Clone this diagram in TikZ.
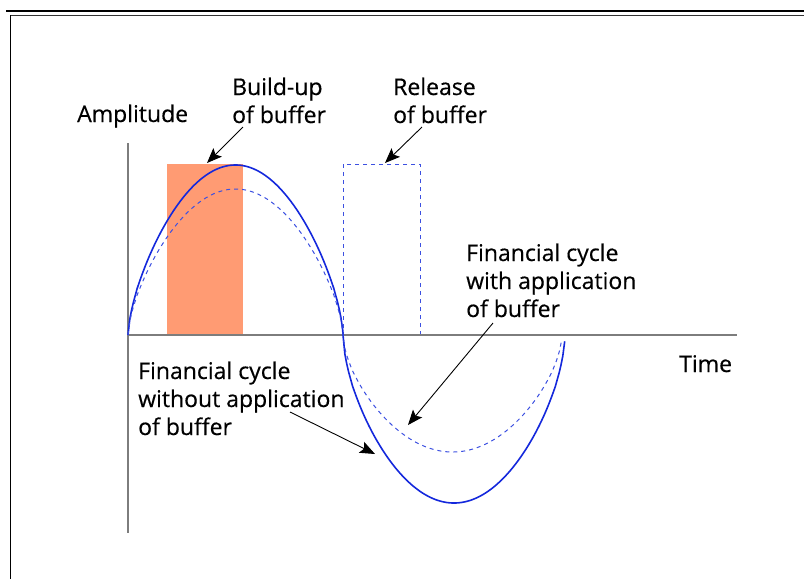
\documentclass[tikz,border=0pt]{standalone}
\usepackage{fontspec}
\setmainfont{Open Sans}
\usetikzlibrary{arrows.meta}
\definecolor{cblue}{RGB}{20,40,220}
\definecolor{dblue}{RGB}{60,80,225}
\definecolor{axisgray}{RGB}{125,125,125}
\definecolor{buforange}{RGB}{255,155,115}
\tikzset{
  lbl/.style={font=\fontsize{23}{28}\selectfont\addfontfeature{FakeBold=0.4}, align=left, inner sep=0pt, anchor=base west},
  axisline/.style={draw=axisgray, line width=2pt},
  solidcurve/.style={draw=cblue, line width=1.6pt},
  dashcurve/.style={draw=dblue, line width=1pt, dash pattern=on 4pt off 4pt},
  pointer/.style={draw=black, line width=0.9pt, -{Stealth[length=15pt,width=12pt,inset=3pt]}}
}
\begin{document}
\begin{tikzpicture}[x=1pt,y=-1pt]
\useasboundingbox (0,0) rectangle (804,579);
% frame
\draw[line width=2.6pt] (6,11) -- (804,11);
\draw[line width=1pt, draw=black!80] (10.5,15) -- (804,15);
\draw[line width=1pt] (10.5,15) -- (10.5,579);
% buffer build-up rectangle
\fill[buforange] (167,164) rectangle (243,336);
% release rectangle
\draw[dashcurve] (343,164) rectangle (420,335);
% axes
\draw[axisline] (128,143) -- (128,533);
\draw[axisline] (128,335) -- (737,335);
% solid cycle
\draw[solidcurve] plot[domain=0:1, samples=120] ({128+215*\x},{335-170*abs(sin(180*\x))^0.65})
  -- plot[domain=0:1, samples=120] ({343+222*\x},{335+168*abs(sin(180*\x))^0.6});
% dashed cycle
\draw[dashcurve] plot[domain=0:1, samples=120] ({128+215*\x},{335-146*abs(sin(180*\x))^0.65})
  -- plot[domain=0:1, samples=120] ({343+219*\x},{335+117*abs(sin(180*\x))^0.6});
% labels (base anchor = baseline of last line)
\node[lbl] (amp) at (77,122) {Amplitude};
\node[lbl] (build) at (232,123) {Build-up\\of buffer};
\node[lbl] (release) at (393,123) {Release\\of buffer};
\node[lbl] (with) at (466,317) {Financial cycle\\with application\\of buffer};
\node[lbl] (without) at (138,435) {Financial cycle\\without application\\of buffer};
\node[lbl] (time) at (679,372) {Time};
% pointer coordinates
\coordinate (b1) at (243,127); \coordinate (b2) at (207,163);
\coordinate (r1) at (422,127); \coordinate (r2) at (385,163);
\coordinate (w1) at (493,323); \coordinate (w2) at (408,425);
\coordinate (o1) at (290,412); \coordinate (o2) at (375,454);
\draw[pointer] (b1) -- (b2);
\draw[pointer] (r1) -- (r2);
\draw[pointer] (w1) -- (w2);
\draw[pointer] (o1) -- (o2);
\end{tikzpicture}
\end{document}
